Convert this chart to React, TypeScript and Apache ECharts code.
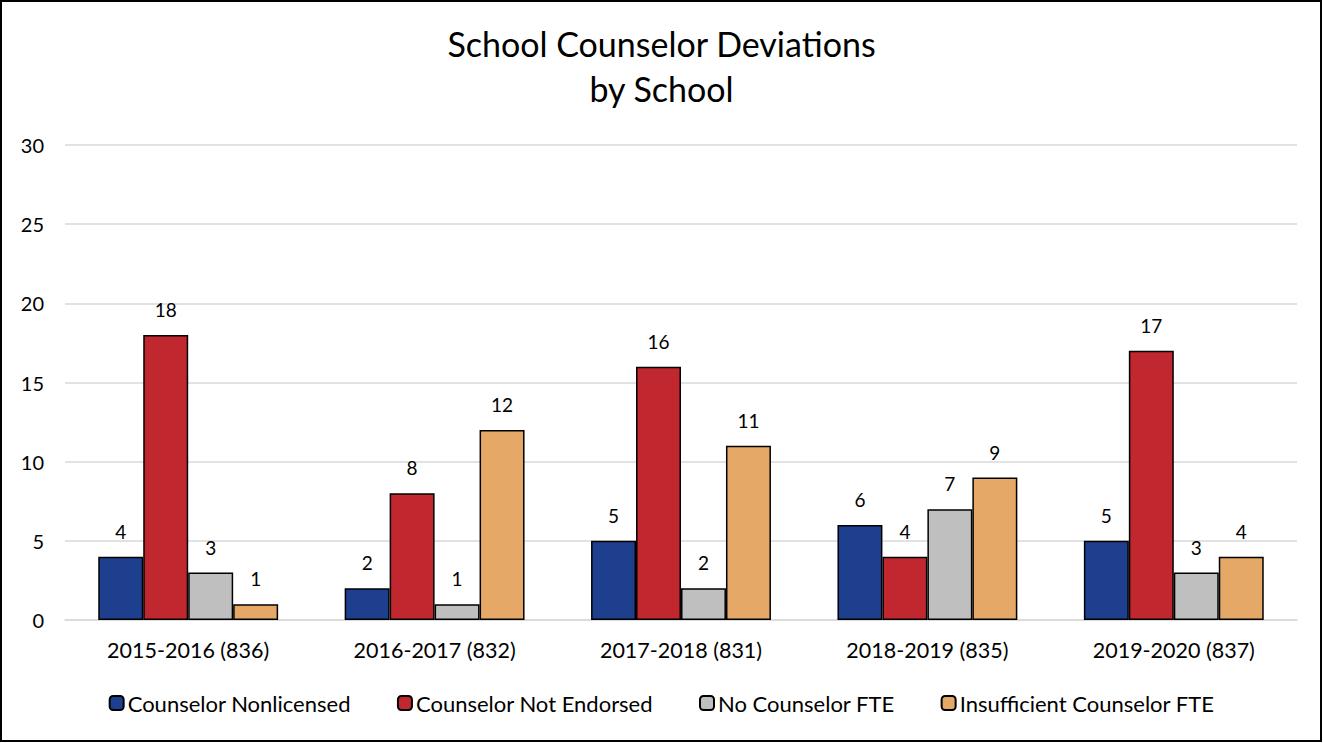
import React, { useEffect, useRef } from "react";
import * as echarts from "echarts";

const categories = [
  "2015-2016 (836)",
  "2016-2017 (832)",
  "2017-2018 (831)",
  "2018-2019 (835)",
  "2019-2020 (837)",
];
const nonlicensed = [4, 2, 5, 6, 5];
const notEndorsed = [18, 8, 16, 4, 17];
const noFTE = [3, 1, 2, 7, 3];
const insufficientFTE = [1, 12, 11, 9, 4];
const seriesNames = [
  "Counselor Nonlicensed",
  "Counselor Not Endorsed",
  "No Counselor FTE",
  "Insufficient Counselor FTE",
];
const colors = ["#1D3F8E", "#C1272F", "#BFBFBF", "#E6A866"];

const FONT = "Lato, 'Open Sans', sans-serif";

export default function App() {
  const ref = useRef<HTMLDivElement>(null);
  useEffect(() => {
    if (!ref.current) return;
    const chart = echarts.init(ref.current, undefined, { renderer: "svg" });
    const data = [nonlicensed, notEndorsed, noFTE, insufficientFTE];
    chart.setOption({
      animation: false,
      backgroundColor: "#fff",
      title: {
        text: "School Counselor Deviations\nby School",
        left: "center",
        top: 16,
        textStyle: {
          fontFamily: FONT,
          fontSize: 34,
          fontWeight: "normal",
          color: "#000",
          lineHeight: 45,
        },
      },
      graphic: [
        {
          type: "rect",
          shape: { x: 1, y: 1, width: 1320, height: 740 },
          style: { fill: "none", stroke: "#000", lineWidth: 2 },
          silent: true,
        },
      ],
      legend: {
        data: seriesNames,
        top: 687,
        left: "center",
        itemWidth: 14,
        itemHeight: 14,
        itemGap: 46,
        textStyle: { fontFamily: FONT, fontSize: 22, color: "#000", padding: [0, 0, 0, -1] },
      },
      grid: { left: 65, right: 26, top: 145, bottom: 123 },
      xAxis: {
        type: "category",
        data: categories,
        axisTick: { show: false },
        axisLine: { lineStyle: { color: "#D9D9D9", width: 1.5 } },
        axisLabel: { fontFamily: FONT, fontSize: 21.5, color: "#000", margin: 19 },
      },
      yAxis: {
        type: "value",
        min: 0,
        max: 30,
        interval: 5,
        axisLabel: { fontFamily: FONT, fontSize: 20, color: "#000", margin: 21 },
        splitLine: { lineStyle: { color: "#D9D9D9", width: 1.5 } },
      },
      series: seriesNames.map((name, i) => ({
        name,
        type: "bar",
        data: data[i],
        barGap: "0%",
        barCategoryGap: "27%",
        itemStyle: { color: colors[i], borderColor: "#000", borderWidth: 1.5 },
        label: {
          show: true,
          position: "top",
          distance: 16,
          fontFamily: FONT,
          fontSize: 19,
          color: "#000",
        },
      })),
    });
    return () => chart.dispose();
  }, []);
  return (
    <div
      ref={ref}
      style={{ position: "absolute", left: 0, top: 0, width: 1323, height: 743 }}
    />
  );
}
